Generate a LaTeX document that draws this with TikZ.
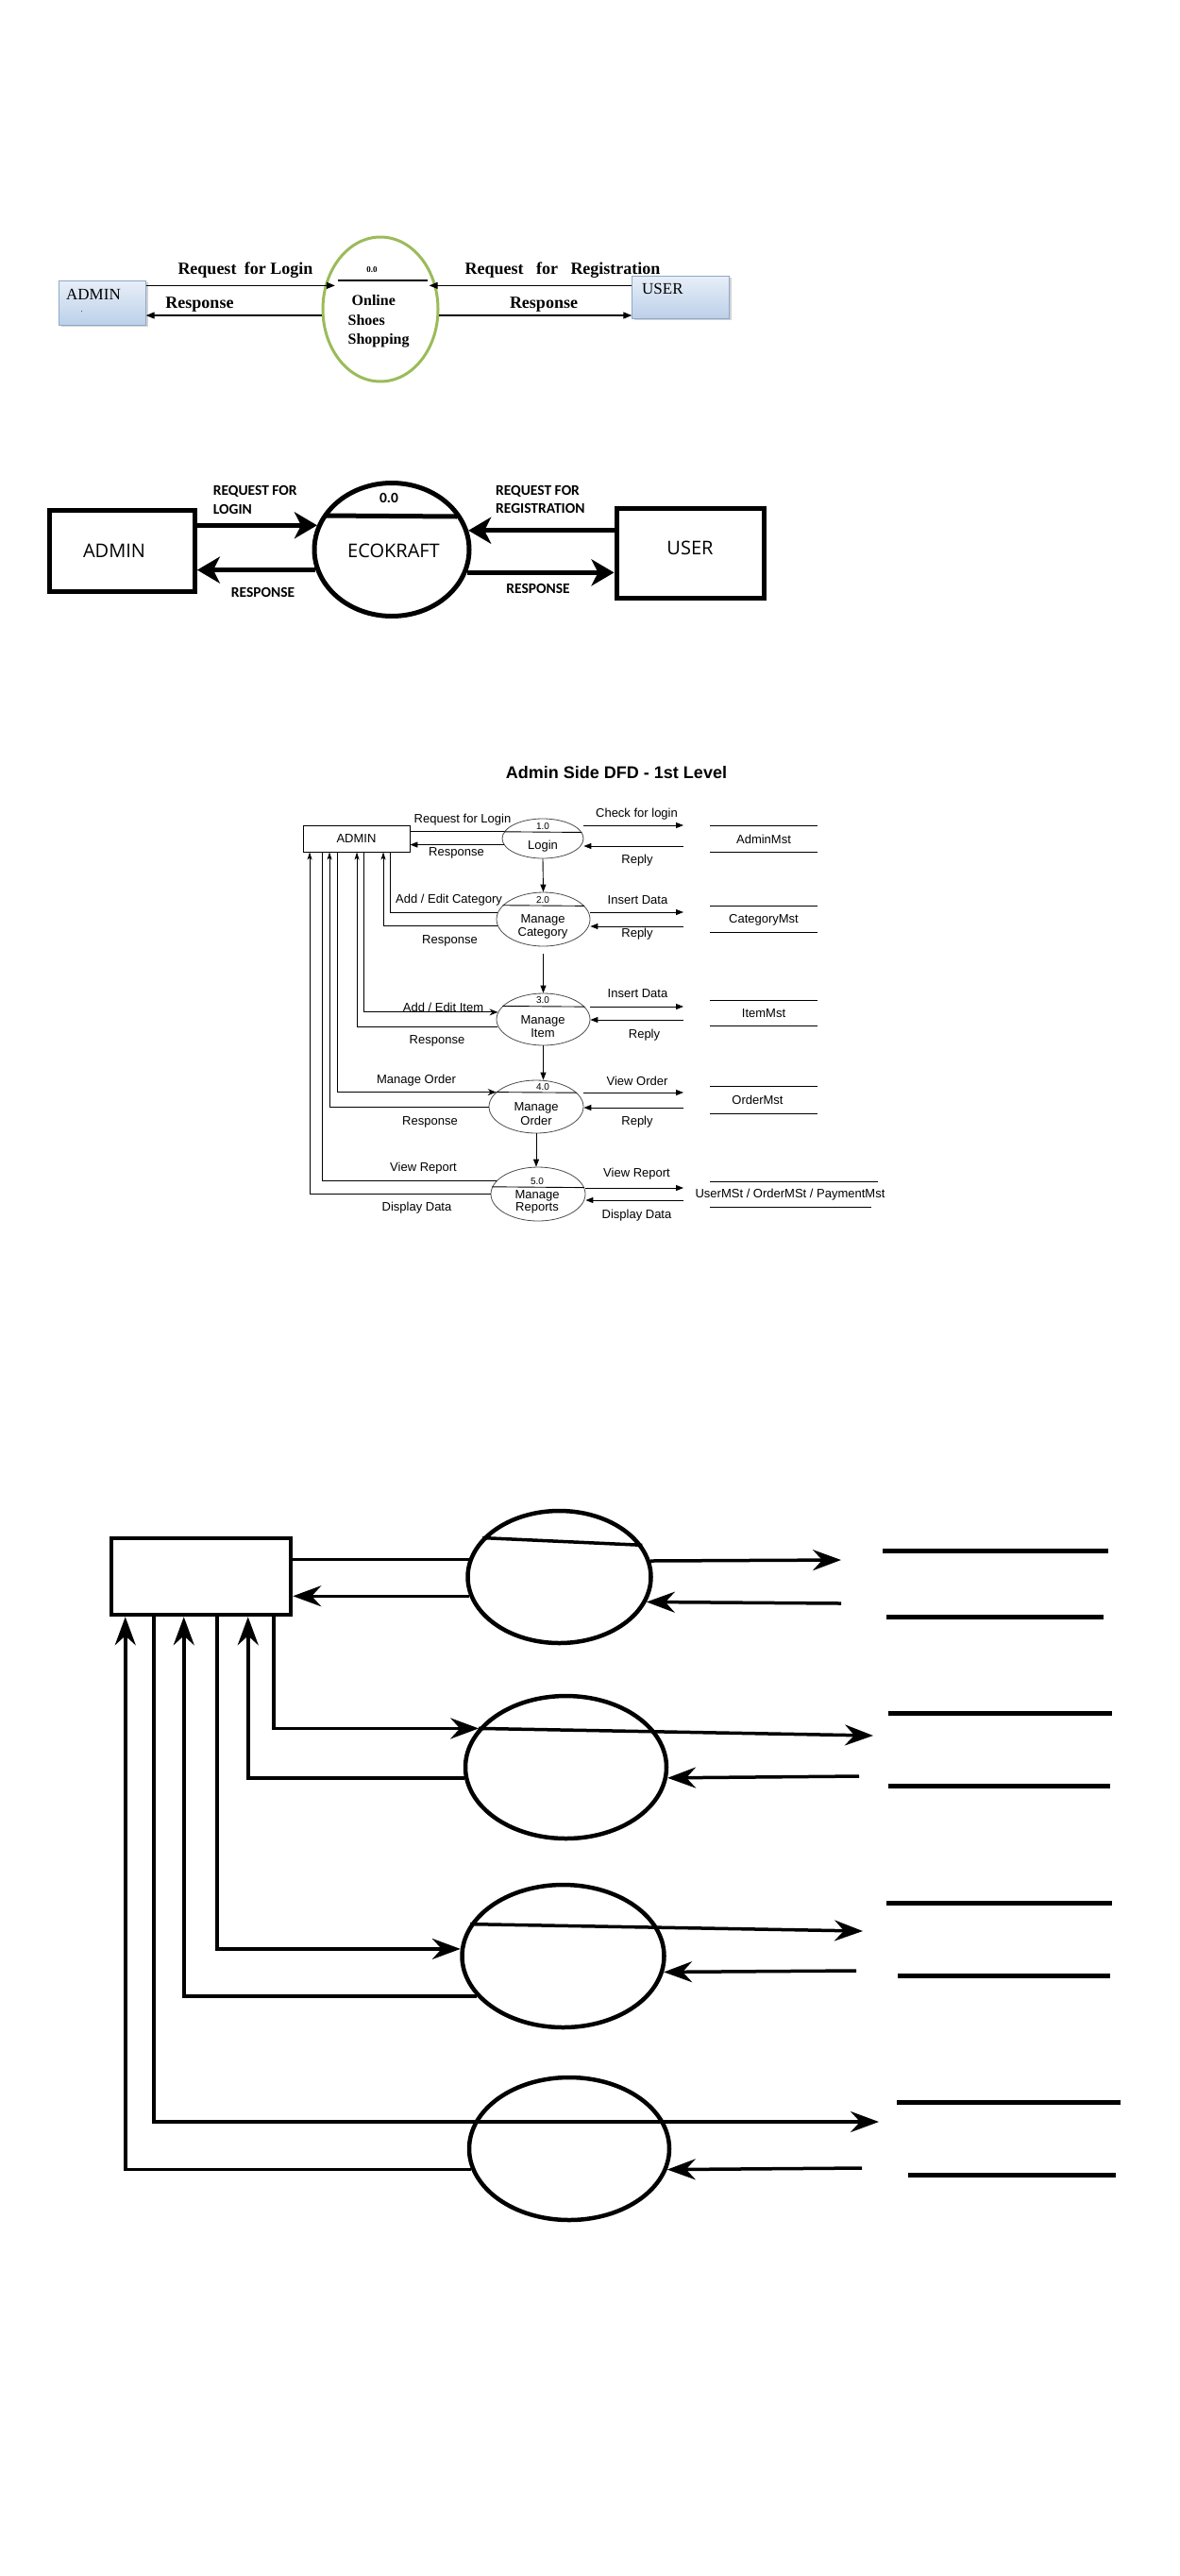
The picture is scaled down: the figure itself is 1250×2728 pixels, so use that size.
\documentclass[tikz,border=0pt]{standalone}
\usepackage{fontspec}
\setmainfont{Liberation Sans}
\newfontfamily\serifA{Liberation Serif}
\newfontfamily\sansA{Liberation Sans}
\newfontfamily\openA{Open Sans}
\newfontfamily\carA{Carlito}
\usetikzlibrary{arrows.meta,shapes.geometric,calc,shadows}
\definecolor{sgreen}{HTML}{9BBB59}
\definecolor{bxtop}{HTML}{E8EFF8}
\definecolor{bxbot}{HTML}{BCD0E9}
\definecolor{bxdraw}{HTML}{8EA8C8}
\begin{document}
\begin{tikzpicture}[x=1pt,y=-1pt,
  s1box/.style={draw=bxdraw, top color=bxtop, bottom color=bxbot, inner sep=0,
     drop shadow={opacity=0.35,shadow xshift=2pt,shadow yshift=-2pt}},
  s1name/.style={font=\serifA\fontsize{17}{19}\selectfont, inner sep=0},
  s1lab/.style={font=\serifA\bfseries\fontsize{18}{20}\selectfont, inner sep=0},
  s1in/.style={font=\serifA\bfseries\fontsize{16}{18}\selectfont, inner sep=0},
  s1arr/.style={line width=1.2pt, -{Triangle[length=9pt,width=7pt]}},
  s2box/.style={draw, line width=5pt, inner sep=0},
  s2name/.style={font=\openA\fontsize{20}{22}\selectfont, inner sep=0},
  s2lab/.style={font=\carA\bfseries\fontsize{15.5}{18}\selectfont, inner sep=0},
  s2arr/.style={line width=5pt, -{Stealth[length=24pt,width=28pt,inset=7pt]}},
  l1txt/.style={font=\sansA\fontsize{13}{15}\selectfont, inner sep=0},
  l1num/.style={font=\sansA\fontsize{10}{12}\selectfont, inner sep=0},
  l1proc/.style={ellipse, draw=black!70, line width=0.8pt, inner sep=0},
  l1line/.style={line width=0.9pt},
  l1arr/.style={line width=0.9pt, -{Triangle[length=8pt,width=6pt]}},
  l1up/.style={line width=0.9pt, -{Stealth[length=8pt,width=5pt,inset=2pt]}},
  l1open/.style={line width=0.9pt, -{Stealth[length=9pt,width=7pt,inset=3pt]}},
  skbox/.style={draw, line width=4.5pt, inner sep=0},
  skproc/.style={ellipse, draw, line width=4.5pt, inner sep=0},
  skline/.style={line width=3.5pt},
  skarr/.style={line width=3.5pt, -{Stealth[length=30pt,width=22pt,inset=10pt]}},
  skstore/.style={line width=5pt}
]
\useasboundingbox (0,0) rectangle (1250,2728);

% ================= Section 1 =================
\node[s1box, minimum width=92pt, minimum height=47pt] (adm1) at (108.5,320.5) {};
\node[s1name, anchor=west] (adm1t) at (70,312) {ADMIN};
\node[font=\serifA\fontsize{8}{8}\selectfont, inner sep=0] (adm1d) at (86.5,330) {.};
\node[s1box, minimum width=103pt, minimum height=45pt] (usr1) at (721,314.5) {};
\node[s1name, anchor=west] (usr1t) at (680,306) {USER};
\node[ellipse, draw=sgreen, line width=3pt, minimum width=122pt, minimum height=153pt, inner sep=0] (p0) at (403,327.5) {};
\node[font=\serifA\bfseries\fontsize{9}{10}\selectfont, inner sep=0] (p0n) at (394,286) {0.0};
\draw[line width=1.3pt] (357.5,297) -- (453,297);
\node[s1in, anchor=west] (p0a) at (372.5,318) {Online};
\node[s1in, anchor=west] (p0b) at (368.5,339) {Shoes};
\node[s1in, anchor=west] (p0c) at (368.5,361) {Shopping};
\draw[s1arr] (adm1.east |- p0.157) -- ($(p0.157)+(11,0)$);
\draw[s1arr] (p0.186.9) -- (adm1.east |- p0.186.9);
\draw[s1arr] (usr1.west |- p0.23) -- ($(p0.23)+(-7.5,0)$);
\draw[s1arr] (p0.354.9) -- (usr1.west |- p0.354.9);
\node[s1lab] (l1a) at (260,286) {Request\hspace{4pt} for Login};
\node[s1lab] (l1b) at (211.5,323) {Response};
\node[s1lab] (l1c) at (596,286) {Request\hspace{9pt} for\hspace{9pt} Registration};
\node[s1lab] (l1d) at (576,323) {Response};

% ================= Section 2 =================
\node[s2box, minimum width=154pt, minimum height=86pt] (adm2) at (129.4,583) {};
\node[s2name] (adm2t) at (121,583) {ADMIN};
\node[s2box, minimum width=156pt, minimum height=95pt] (usr2) at (731,585.5) {};
\node[s2name] (usr2t) at (731,580) {USER};
\node[ellipse, draw, line width=5pt, minimum width=164pt, minimum height=141pt, inner sep=0] (p02) at (415,582) {};
\draw[line width=5pt] (343,546) -- (484,547);
\node[s2lab] (p02n) at (412,527) {0.0};
\node[s2name] (p02t) at (417,583) {ECOKRAFT};
\draw[s2arr] (adm2.east |- p02.162) -- (p02.162);
\draw[s2arr] (p02.195.7) -- (adm2.east |- p02.195.7);
\draw[s2arr] (usr2.west |- p02.14.2) -- (p02.14.2);
\draw[s2arr] (p02.343.6) -- (usr2.west |- p02.343.6);
\node[s2lab, anchor=west] (l2a) at (225.7,520) {REQUEST FOR};
\node[s2lab, anchor=west] (l2b) at (225.7,539) {LOGIN};
\node[s2lab] (l2c) at (278.5,627) {RESPONSE};
\node[s2lab, anchor=west] (l2d) at (525,520) {REQUEST FOR};
\node[s2lab, anchor=west] (l2e) at (525,538) {REGISTRATION};
\node[s2lab] (l2f) at (570,623) {RESPONSE};

% ================= Section 3 =================
\node[font=\sansA\bfseries\fontsize{18}{20}\selectfont, inner sep=0] (ttl) at (653,818) {Admin Side DFD - 1st Level};
\node[draw, line width=0.9pt, minimum width=113pt, minimum height=28pt, l1txt] (adm3) at (377.5,888) {ADMIN};

\node[l1proc, minimum width=86pt, minimum height=42pt] (q1) at (575,888) {};
\node[l1proc, minimum width=99pt, minimum height=57pt] (q2) at (575.5,973.5) {};
\node[l1proc, minimum width=99pt, minimum height=55pt] (q3) at (575.5,1079.5) {};
\node[l1proc, minimum width=100pt, minimum height=56pt] (q4) at (568,1172) {};
\node[l1proc, minimum width=100pt, minimum height=57pt] (q5) at (570,1264.5) {};
\draw[l1line] (q1.170.2) -- (q1.9.8);
\draw[l1line] (q2.161.2) -- (q2.18.8);
\draw[l1line] (q3.162.6) -- (q3.17.4);
\draw[l1line] (q4.160.4) -- (q4.19.6);
\draw[l1line] (q5.171.2) -- (q5.8.8);

\node[l1num] (q1n) at (575,875) {1.0};
\node[l1txt] (q1t) at (575,896) {Login};
\node[l1num] (q2n) at (575,953) {2.0};
\node[l1txt] (q2t) at (575,974) {Manage};
\node[l1txt] (q2u) at (575,988) {Category};
\node[l1num] (q3n) at (575,1059) {3.0};
\node[l1txt] (q3t) at (575,1081) {Manage};
\node[l1txt] (q3u) at (575,1094) {Item};
\node[l1num] (q4n) at (575,1151) {4.0};
\node[l1txt] (q4t) at (568,1173) {Manage};
\node[l1txt] (q4u) at (568,1187) {Order};
\node[l1num] (q5n) at (569,1251) {5.0};
\node[l1txt] (q5t) at (569,1266) {Manage};
\node[l1txt] (q5u) at (569,1279) {Reports};

% left flows
\draw[l1line] (adm3.east |- q1.170.2) -- (q1.170.2);
\draw[l1arr] (q1.189.8) -- (adm3.east |- q1.189.8);
\draw[l1line] ([xshift=92.5pt]adm3.south west) |- (q2.172.3);
\draw[l1up] (q2.188.9) -| ([xshift=85.5pt]adm3.south west);
\draw[l1open] ([xshift=64.5pt]adm3.south west) |- (q3.171);
\draw[l1up] (q3.189) -| ([xshift=57.5pt]adm3.south west);
\draw[l1open] ([xshift=36.5pt]adm3.south west) |- (q4.160.4);
\draw[l1up] (q4.west) -| ([xshift=28.5pt]adm3.south west);
\draw[l1line] ([xshift=20.5pt]adm3.south west) |- (q5.163);
\draw[l1up] (q5.west) -| ([xshift=7.5pt]adm3.south west);

% vertical flows
\draw[l1arr] (q1.south) -- (q2.north);
\draw[l1arr] ($(q2.south)+(0,8)$) -- (q3.north);
\draw[l1arr] (q3.south) -- (q3.south |- q4.north);
\draw[l1arr] (q4.south) -- (q4.south |- q5.north);

% right flows
\coordinate (a1o) at (724,874);
\coordinate (a1i) at (724,896);
\coordinate (a2o) at (724,966);
\coordinate (a2i) at (724,981);
\coordinate (a3o) at (724,1066);
\coordinate (a3i) at (724,1080);
\coordinate (a4o) at (724,1157);
\coordinate (a4i) at (724,1173);
\coordinate (a5o) at (724,1258);
\coordinate (a5i) at (724,1271);
\draw[l1arr] (q1.east |- a1o) -- (a1o);
\draw[l1arr] (a1i) -- (q1.east |- a1i);
\draw[l1arr] (q2.east |- a2o) -- (a2o);
\draw[l1arr] (a2i) -- (q2.east |- a2i);
\draw[l1arr] (q3.east |- a3o) -- (a3o);
\draw[l1arr] (a3i) -- (q3.east |- a3i);
\draw[l1arr] (q4.east |- a4o) -- (a4o);
\draw[l1arr] (a4i) -- (q4.east |- a4i);
\draw[l1arr] (q5.east |- a5o) -- (a5o);
\draw[l1arr] (a5i) -- (q5.east |- a5i);

% data stores
\draw[l1line] (752,874) -- (866,874);
\draw[l1line] (752,902) -- (866,902);
\draw[l1line] (752,959) -- (866,959);
\draw[l1line] (752,987) -- (866,987);
\draw[l1line] (752,1059) -- (866,1059);
\draw[l1line] (752,1086) -- (866,1086);
\draw[l1line] (752,1150) -- (866,1150);
\draw[l1line] (752,1179) -- (866,1179);
\draw[l1line] (752,1251) -- (930,1251);
\draw[l1line] (752,1278) -- (923,1278);
\node[l1txt] (st1) at (809,889) {AdminMst};
\node[l1txt] (st2) at (809,974) {CategoryMst};
\node[l1txt] (st3) at (809,1073) {ItemMst};
\node[l1txt] (st4) at (802.5,1165) {OrderMst};
\node[l1txt] (st5) at (837,1265) {UserMSt / OrderMSt / PaymentMst};

% labels
\node[l1txt] (m1) at (490,868) {Request for Login};
\node[l1txt] (m2) at (483.5,903) {Response};
\node[l1txt] (m3) at (674.5,862) {Check for login};
\node[l1txt] (m4) at (675,911) {Reply};
\node[l1txt] (m5) at (475.5,953) {Add / Edit Category};
\node[l1txt] (m6) at (476.5,996) {Response};
\node[l1txt] (m7) at (675.5,953) {Insert Data};
\node[l1txt] (m8) at (675,989) {Reply};
\node[l1txt] (m9) at (469.5,1067) {Add / Edit Item};
\node[l1txt] (m10) at (463,1102) {Response};
\node[l1txt] (m11) at (675.5,1052) {Insert Data};
\node[l1txt] (m12) at (682.5,1096) {Reply};
\node[l1txt] (m13) at (441,1144) {Manage Order};
\node[l1txt] (m14) at (455.5,1188) {Response};
\node[l1txt] (m15) at (675,1145) {View Order};
\node[l1txt] (m16) at (675,1188) {Reply};
\node[l1txt] (m17) at (448.5,1237) {View Report};
\node[l1txt] (m18) at (441.5,1279) {Display Data};
\node[l1txt] (m19) at (674.5,1243) {View Report};
\node[l1txt] (m20) at (674.5,1287) {Display Data};

% ================= Section 4 =================
\node[skbox, minimum width=190pt, minimum height=81pt] (bx) at (213,1669.5) {};
\node[skproc, minimum width=194pt, minimum height=140pt] (k1) at (592.5,1670) {};
\node[skproc, minimum width=213pt, minimum height=151pt] (k2) at (599.5,1871.5) {};
\node[skproc, minimum width=214pt, minimum height=151pt] (k3) at (596.5,2071.5) {};
\node[skproc, minimum width=212pt, minimum height=151pt] (k4) at (603,2275.5) {};

\coordinate (s1o) at (891,1652);
\coordinate (s1i) at (891,1698);
\coordinate (s2o) at (925,1838);
\coordinate (s2i) at (910,1881);
\coordinate (s3o) at (914,2045);
\coordinate (s3i) at (907,2087);
\coordinate (s4o) at (931,2247);
\coordinate (s4i) at (913,2296);

\draw[skline] (bx.east |- k1.169.9) -- (k1.169.9);
\draw[skarr] (k1.10.7) -- (s1o);
\draw[skline] (k1.153.7) -- (k1.21.5);
\draw[skarr] (k1.192) -- (bx.east |- k1.192);
\draw[skarr] (s1i) -- (k1.344.1);

\draw[skarr] ([xshift=174pt]bx.south west) |- (k2.156.8);
\draw[skarr] (k2.156.8) -- (s2o);
\draw[skarr] (k2.186.1) -| ([xshift=147pt]bx.south west);
\draw[skarr] (s2i) -- (k2.354.9);

\draw[skarr] ([xshift=114pt]bx.south west) |- (k3.176.6);
\draw[skarr] (k3.161.6) -- (s3o);
\draw[skarr] (k3.205.4) -| ([xshift=79pt]bx.south west);
\draw[skarr] (s3i) -- (k3.351.7);

\draw[skarr] ([xshift=47pt]bx.south west) |- (s4o);
\draw[skarr] (k4.192.4) -| ([xshift=17pt]bx.south west);
\draw[skarr] (s4i) -- (k4.348.8);

\draw[skstore] (935,1642) -- (1174,1642);
\draw[skstore] (939,1712) -- (1169,1712);
\draw[skstore] (941,1814) -- (1178,1814);
\draw[skstore] (941,1891) -- (1176,1891);
\draw[skstore] (939,2015) -- (1178,2015);
\draw[skstore] (951,2092) -- (1176,2092);
\draw[skstore] (950,2226) -- (1187,2226);
\draw[skstore] (962,2303) -- (1182,2303);
\end{tikzpicture}
\end{document}
